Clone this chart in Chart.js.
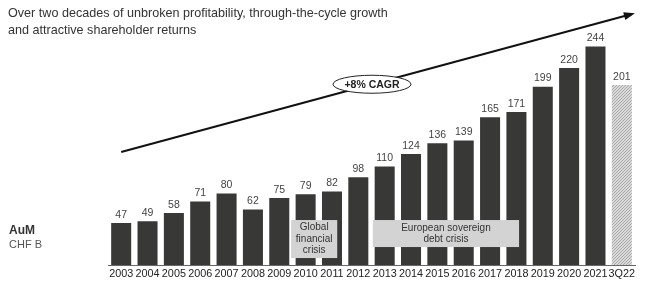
<!DOCTYPE html>
<html>
<head>
<meta charset="utf-8">
<script src="https://cdn.jsdelivr.net/npm/chart.js@4.4.0/dist/chart.umd.min.js"></script>
<style>
  body { margin:0; background:#fff; font-family:"Liberation Sans", Arial, sans-serif; }
  #wrap { position:relative; width:650px; height:292px; }
  #title { position:absolute; left:8px; top:5px; font-size:12.6px; line-height:17px; color:#333; }
  #aum { position:absolute; left:9px; top:223px; color:#333; }
  #aum b { font-size:12px; display:block; line-height:14px; }
  #aum span { font-size:11px; display:block; line-height:14px; color:#555; }
  canvas { position:absolute; left:0; top:0; }
</style>
</head>
<body>
<div id="wrap">
  <canvas id="chart_elem" width="650" height="292"></canvas>
  <div id="title">Over two decades of unbroken profitability, through-the-cycle growth<br>and attractive shareholder returns</div>
  <div id="aum"><b>AuM</b><span>CHF B</span></div>
</div>
<script>
const labels = ['2003','2004','2005','2006','2007','2008','2009','2010','2011','2012','2013','2014','2015','2016','2017','2018','2019','2020','2021','3Q22'];
const aum = [47,49,58,71,80,62,75,79,82,98,110,124,136,139,165,171,199,220,244,201];

// crisis boxes: [label lines, first category, last category]
const crises = [
  { lines:['Global','financial','crisis'], from:'2010', to:'2011' },
  { lines:['European sovereign','debt crisis'], from:'2013', to:'2018' }
];
const cagrText = '+8% CAGR';

const canvas = document.getElementById('chart_elem');
const ctx = canvas.getContext('2d');

// hatch pattern for the partial year bar
const makeHatch = () =>{
  const c = document.createElement('canvas');
  c.width = 3; c.height = 3;
  const g = c.getContext('2d');
  g.fillStyle = '#dadada';
  g.fillRect(0,0,3,3);
  g.fillStyle = '#a8a8a8';
  g.fillRect(2,0,1,1);
  g.fillRect(1,1,1,1);
  g.fillRect(0,2,1,1);
  return ctx.createPattern(c,'repeat');
}

const hatch = makeHatch();
const barColors = labels.map(l => l === '3Q22' ? hatch : '#383936');

const extras = {
  id:'extras',
  afterDatasetsDraw(chart){
    const ctx = chart.ctx;
    const x = chart.scales.x;
    const meta = chart.getDatasetMeta(0);
    const step = x.getPixelForValue(1) - x.getPixelForValue(0);

    // value labels
    ctx.save();
    ctx.font = '10.5px "Liberation Sans", Arial, sans-serif';
    ctx.fillStyle = '#444';
    ctx.textAlign = 'center';
    ctx.textBaseline = 'bottom';
    meta.data.forEach((bar,i)=>{
      ctx.fillText(String(aum[i]), bar.x, bar.y - 3);
    });

    // crisis boxes
    const bottom = chart.chartArea.bottom;
    crises.forEach(c=>{
      const i0 = labels.indexOf(c.from), i1 = labels.indexOf(c.to);
      let left, right, top, h;
      if (c.lines.length === 3){
        left = x.getPixelForValue(i0) - step*0.55;
        right = x.getPixelForValue(i1) + step*0.2;
        top = bottom - 45; h = 38;
      } else {
        left = x.getPixelForValue(i0) - step*0.45;
        right = x.getPixelForValue(i1) + step*0.1;
        top = bottom - 45; h = 27;
      }
      ctx.fillStyle = '#d3d3d3';
      ctx.fillRect(left, top, right-left, h);
      ctx.fillStyle = '#333';
      ctx.font = '10px "Liberation Sans", Arial, sans-serif';
      ctx.textBaseline = 'middle';
      const lh = 11.5;
      const cy = top + h/2 - (c.lines.length-1)*lh/2;
      c.lines.forEach((t,k)=> ctx.fillText(t, (left+right)/2, cy + k*lh));
    });

    // CAGR arrow
    const area = chart.chartArea;
    const x0 = x.getPixelForValue(0), y0 = 152;
    const x1 = area.right - 3, y1 = 14;
    ctx.strokeStyle = '#111';
    ctx.fillStyle = '#111';
    ctx.lineWidth = 2;
    ctx.beginPath();
    ctx.moveTo(x0,y0);
    ctx.lineTo(x1,y1);
    ctx.stroke();
    const ang = Math.atan2(y1-y0, x1-x0);
    ctx.beginPath();
    ctx.moveTo(x1 + 3*Math.cos(ang), y1 + 3*Math.sin(ang));
    ctx.lineTo(x1 - 8*Math.cos(ang) + 4*Math.sin(ang), y1 - 8*Math.sin(ang) - 4*Math.cos(ang));
    ctx.lineTo(x1 - 8*Math.cos(ang) - 4*Math.sin(ang), y1 - 8*Math.sin(ang) + 4*Math.cos(ang));
    ctx.closePath();
    ctx.fill();

    // ellipse label
    const ex = 372, ey = y0 + (ex - x0)*(y1-y0)/(x1-x0);
    ctx.fillStyle = '#fff';
    ctx.strokeStyle = '#222';
    ctx.lineWidth = 1;
    ctx.beginPath();
    ctx.ellipse(ex, ey, 39, 9, 0, 0, Math.PI*2);
    ctx.fill();
    ctx.stroke();
    ctx.fillStyle = '#222';
    ctx.font = 'bold 10.5px "Liberation Sans", Arial, sans-serif';
    ctx.textBaseline = 'middle';
    ctx.fillText(cagrText, ex, ey + 0.5);
    ctx.restore();
  }
};

const data = {
  labels: labels,
  datasets: [{
    label: 'AuM',
    data: aum,
    backgroundColor: barColors,
    borderWidth: 0,
    categoryPercentage: 1,
    barPercentage: 0.76
  }]
};

const config = {
  type: 'bar',
  data,
  options: {
    responsive: false,
    animation: false,
    layout: { padding: { left: 108, right: 15, top: 34, bottom: 8 } },
    plugins: { legend: { display: false }, tooltip: { enabled: false } },
    scales: {
      x: {
        grid: { display: false, drawTicks: false },
        border: { display: true, color: '#666', width: 1 },
        ticks: {
          autoSkip: false, maxRotation: 0, padding: 3,
          color: '#222',
          font: { family: '"Liberation Sans", Arial, sans-serif', size: 10.8 }
        }
      },
      y: {
        display: false,
        min: 0, max: 258
      }
    }
  },
  plugins: [extras]
};
const chart = new Chart(ctx, config);
</script>
</body>
</html>
